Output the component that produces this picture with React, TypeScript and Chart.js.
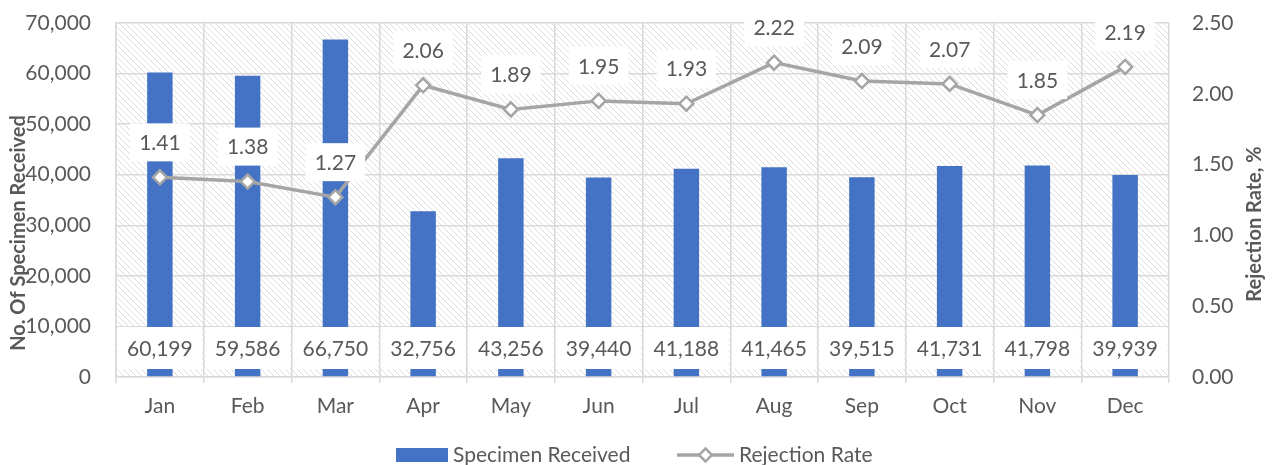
import React, { useEffect, useRef } from 'react';
import { Chart, registerables } from 'chart.js';

Chart.register(...registerables);

const months = ['Jan', 'Feb', 'Mar', 'Apr', 'May', 'Jun', 'Jul', 'Aug', 'Sep', 'Oct', 'Nov', 'Dec'];
const specimenReceived = [60199, 59586, 66750, 32756, 43256, 39440, 41188, 41465, 39515, 41731, 41798, 39939];
const rejectionRate = [1.41, 1.38, 1.27, 2.06, 1.89, 1.95, 1.93, 2.22, 2.09, 2.07, 1.85, 2.19];
const leftAxisMax = 70000;
const leftAxisStep = 10000;
const rightAxisMax = 2.5;
const rightAxisStep = 0.5;
const seriesNames = ['Specimen Received', 'Rejection Rate'];
const leftTitle = 'No. Of Specimen Received';
const rightTitle = 'Rejection Rate, %';

const FONT = 'Lato';
const TEXT = '#595959';
const GRID = '#D9D9D9';
const BLUE = '#4472C4';
const GRAY = '#A5A5A5';

const hatchPlugin = {
  id: 'hatchBg',
  beforeDraw(chart: any) {
    const { ctx, chartArea: a } = chart;
    const s = 6;
    const tile = document.createElement('canvas');
    tile.width = s;
    tile.height = s;
    const t = tile.getContext('2d')!;
    t.fillStyle = '#ffffff';
    t.fillRect(0, 0, s, s);
    t.strokeStyle = '#dcdcdc';
    t.lineWidth = 1;
    t.beginPath();
    for (const o of [-s, 0, s]) {
      t.moveTo(o, 0);
      t.lineTo(o + s, s);
    }
    t.stroke();
    const pat = ctx.createPattern(tile, 'repeat');
    ctx.save();
    ctx.fillStyle = pat;
    ctx.fillRect(a.left, a.top, a.right - a.left, a.bottom - a.top);
    ctx.restore();
  },
};

function labelBox(ctx: CanvasRenderingContext2D, text: string, cx: number, cy: number, padX: number, h: number) {
  ctx.font = `21px ${FONT}`;
  const w = ctx.measureText(text).width + padX * 2;
  ctx.fillStyle = '#ffffff';
  ctx.fillRect(cx - w / 2, cy - h / 2, w, h);
  ctx.fillStyle = TEXT;
  ctx.textAlign = 'center';
  ctx.textBaseline = 'middle';
  ctx.fillText(text, cx, cy + 1);
}

const labelsPlugin = {
  id: 'dataLabels',
  afterDatasetsDraw(chart: any) {
    const { ctx } = chart;
    const yL = chart.scales.y;
    ctx.save();
    const barMeta = chart.getDatasetMeta(0);
    barMeta.data.forEach((el: any, i: number) => {
      const cy = yL.getPixelForValue(0) - 29;
      labelBox(ctx, specimenReceived[i].toLocaleString('en-US'), el.x, cy, 9.5, 42);
    });
    const lineMeta = chart.getDatasetMeta(1);
    lineMeta.data.forEach((el: any, i: number) => {
      labelBox(ctx, rejectionRate[i].toFixed(2), el.x, el.y - 35, 9, 38);
    });
    ctx.restore();
  },
};

const decorPlugin = {
  id: 'decor',
  afterDraw(chart: any) {
    const { ctx } = chart;
    ctx.save();
    ctx.fillStyle = TEXT;
    ctx.font = `bold 20px ${FONT}`;
    ctx.textAlign = 'center';
    ctx.textBaseline = 'middle';
    ctx.save();
    ctx.translate(19, 233);
    ctx.rotate(-Math.PI / 2);
    ctx.fillText(leftTitle, 0, 0);
    ctx.restore();
    ctx.save();
    ctx.translate(1255, 224);
    ctx.rotate(-Math.PI / 2);
    ctx.fillText(rightTitle, 0, 0);
    ctx.restore();

    // legend
    const ly = 455;
    ctx.fillStyle = BLUE;
    ctx.fillRect(396, ly - 7, 52, 14);
    ctx.font = `21px ${FONT}`;
    ctx.textAlign = 'left';
    ctx.fillStyle = TEXT;
    ctx.fillText(seriesNames[0], 453, ly);
    ctx.strokeStyle = GRAY;
    ctx.lineWidth = 3.5;
    ctx.beginPath();
    ctx.moveTo(677, ly);
    ctx.lineTo(734, ly);
    ctx.stroke();
    ctx.fillStyle = '#ffffff';
    ctx.lineWidth = 2.5;
    ctx.beginPath();
    const cx = 705.5;
    const r = 6.5;
    ctx.moveTo(cx, ly - r);
    ctx.lineTo(cx + r, ly);
    ctx.lineTo(cx, ly + r);
    ctx.lineTo(cx - r, ly);
    ctx.closePath();
    ctx.fill();
    ctx.stroke();
    ctx.fillStyle = TEXT;
    ctx.fillText(seriesNames[1], 739, ly);
    ctx.restore();
  },
};

const fixVertical = (w: number) => (s: any) => {
  s.width = w;
  s.paddingTop = 0;
  s.paddingBottom = 0;
};

export default function App() {
  const ref = useRef<HTMLCanvasElement>(null);
  useEffect(() => {
    if (!ref.current) return;
    const chart = new Chart(ref.current, {
      data: {
        labels: months,
        datasets: [
          {
            type: 'bar',
            label: seriesNames[0],
            data: specimenReceived,
            backgroundColor: BLUE,
            barPercentage: 0.29,
            categoryPercentage: 1,
            yAxisID: 'y',
            order: 2,
          },
          {
            type: 'line',
            label: seriesNames[1],
            data: rejectionRate,
            borderColor: GRAY,
            borderWidth: 3.5,
            pointStyle: 'rectRot',
            pointRadius: 7,
            pointBorderWidth: 2.5,
            pointBackgroundColor: '#ffffff',
            pointBorderColor: GRAY,
            yAxisID: 'y1',
            order: 1,
          },
        ],
      } as any,
      options: {
        responsive: false,
        animation: false,
        devicePixelRatio: 1,
        layout: { padding: { top: 23, bottom: 43, left: 0, right: 0 } },
        plugins: { legend: { display: false }, tooltip: { enabled: false } },
        scales: {
          x: {
            offset: true,
            grid: { offset: true, color: GRID, lineWidth: 1.5, drawTicks: true, tickLength: 6 },
            border: { color: GRID, width: 1.5 },
            ticks: { color: TEXT, font: { family: FONT, size: 21 }, padding: 11 },
            afterFit: (s: any) => { s.height = 45; s.paddingLeft = 0; s.paddingRight = 0; },
          },
          y: {
            position: 'left',
            min: 0,
            max: leftAxisMax,
            grid: { color: GRID, lineWidth: 1.5, drawTicks: false },
            border: { color: GRID, width: 1.5 },
            ticks: {
              stepSize: leftAxisStep,
              color: TEXT,
              font: { family: FONT, size: 21 },
              padding: 25,
              callback: (v: any) => Number(v).toLocaleString('en-US'),
            },
            afterFit: fixVertical(116),
          },
          y1: {
            position: 'right',
            min: 0,
            max: rightAxisMax,
            grid: { drawOnChartArea: false, drawTicks: false },
            border: { display: false },
            ticks: {
              stepSize: rightAxisStep,
              color: TEXT,
              font: { family: FONT, size: 21 },
              padding: 23,
              callback: (v: any) => Number(v).toFixed(2),
            },
            afterFit: fixVertical(104),
          },
        },
      } as any,
      plugins: [hatchPlugin, labelsPlugin, decorPlugin],
    });
    return () => chart.destroy();
  }, []);
  return (
    <div style={{ position: 'fixed', left: 0, top: 0, width: 1273, height: 465, background: '#fff' }}>
      <canvas ref={ref} width={1273} height={465} />
    </div>
  );
}
